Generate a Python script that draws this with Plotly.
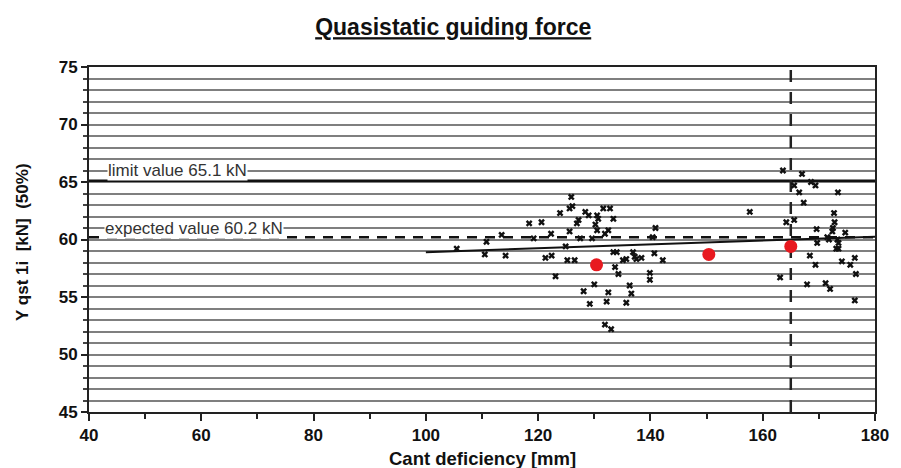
import plotly.graph_objects as go

# measured points (cant deficiency [mm], Y qst [kN])
cant = [105.5, 110.8, 110.5, 113.5, 114.2, 118.4, 120.6, 119.2, 122.3, 123.9,
        121.3, 122.4, 123.1, 125.9, 125.6, 126.1, 128.4, 129.0, 127.2, 126.9,
        125.6, 127.5, 130.5, 130.7, 130.2, 130.5, 131.6, 132.8, 133.4, 132.5,
        131.9, 129.6, 124.9, 125.2, 126.5, 133.4, 134.0, 135.1, 135.7, 136.9,
        137.2, 137.5, 138.4, 140.7, 142.2, 140.9, 140.4, 133.7, 134.3, 139.9,
        139.9, 130.0, 128.1, 136.3, 136.6, 132.5, 129.2, 132.2, 135.7, 131.9,
        133.0,
        163.6, 167.0, 168.6, 169.4, 165.6, 166.5, 173.4, 167.3, 157.7, 172.7,
        172.8, 165.6, 164.2, 169.6, 172.5, 172.4, 174.7, 171.5, 171.8, 169.7,
        173.3, 173.5, 173.1, 173.5, 168.4, 169.4, 174.1, 175.6, 176.4, 176.6,
        163.1, 167.9, 171.2, 172.0, 176.4]
force = [59.2, 59.8, 58.7, 60.4, 58.6, 61.4, 61.5, 60.1, 60.5, 62.3,
         58.4, 58.6, 56.8, 63.7, 62.7, 62.9, 62.4, 62.1, 61.7, 61.4,
         60.7, 60.1, 62.1, 61.8, 61.3, 60.8, 62.7, 62.7, 61.8, 60.8,
         60.5, 60.1, 59.4, 58.2, 58.2, 58.9, 58.9, 58.2, 58.3, 58.9,
         58.5, 58.3, 58.4, 58.8, 58.2, 61.0, 60.2, 57.6, 57.0, 57.1,
         56.5, 56.1, 55.5, 56.0, 55.3, 55.4, 54.4, 54.6, 54.5, 52.6,
         52.2,
         66.0, 65.7, 65.0, 64.7, 64.7, 64.1, 64.1, 63.2, 62.4, 62.3,
         61.5, 61.7, 61.5, 60.9, 61.0, 60.7, 60.6, 60.2, 60.0, 59.7,
         60.0, 59.7, 59.2, 59.2, 58.6, 57.8, 58.1, 57.8, 58.4, 57.0,
         56.7, 56.1, 56.2, 55.7, 54.7]

# class means
mean_cant = [130.4, 150.4, 165.0]
mean_force = [57.8, 58.7, 59.4]

# regression line end points
trend_x = [100, 180]
trend_y = [58.9, 60.25]

limit_value = 65.1
expected_value = 60.2
cant_limit = 165

FONT = "Liberation Sans, Arial, sans-serif"

fig = go.Figure()

fig.add_trace(go.Scatter(x=[40, 180], y=[limit_value, limit_value], mode="lines",
                         line=dict(color="#111", width=2.5), hoverinfo="skip", showlegend=False))
fig.add_trace(go.Scatter(x=[40, 180], y=[expected_value, expected_value], mode="lines",
                         line=dict(color="#111", width=2.5, dash="10px,8px"), hoverinfo="skip", showlegend=False))
fig.add_trace(go.Scatter(x=[cant_limit, cant_limit], y=[45, 75], mode="lines",
                         line=dict(color="#222", width=2.5, dash="12px,10px"), hoverinfo="skip", showlegend=False))
fig.add_trace(go.Scatter(x=trend_x, y=trend_y, mode="lines",
                         line=dict(color="#111", width=2), showlegend=False))
fig.add_trace(go.Scatter(x=cant, y=force, mode="markers",
                         marker=dict(symbol="x", size=6, color="#111"), showlegend=False))
fig.add_trace(go.Scatter(x=mean_cant, y=mean_force, mode="markers",
                         marker=dict(symbol="circle", size=13, color="#e8191f"), showlegend=False))

fig.add_annotation(x=43.2, y=66, xanchor="left", yanchor="middle", showarrow=False,
                   text="limit value 65.1 kN", bgcolor="white", borderpad=0,
                   font=dict(family=FONT, size=17, color="#333"))
fig.add_annotation(x=42.6, y=61, xanchor="left", yanchor="middle", showarrow=False,
                   text="expected value 60.2 kN", bgcolor="white", borderpad=0,
                   font=dict(family=FONT, size=17, color="#333"))

# axis titles as annotations for precise placement
fig.add_annotation(xref="paper", yref="paper", x=0.5, y=-0.134, xanchor="center", yanchor="middle",
                   showarrow=False, text="<b>Cant deficiency [mm]</b>",
                   font=dict(family=FONT, size=18.5, color="#111"))
fig.add_annotation(xref="paper", yref="paper", x=-0.084, y=0.493, xanchor="center", yanchor="middle",
                   showarrow=False, textangle=-90,
                   text="<b>Y qst 1i&nbsp;&nbsp;[kN]&nbsp;&nbsp;(50%)</b>",
                   font=dict(family=FONT, size=17, color="#111"))

fig.update_layout(
    width=901, height=468,
    margin=dict(l=89, r=16, t=67, b=56),
    paper_bgcolor="white", plot_bgcolor="white",
    title=dict(text="<b><u>Quasistatic guiding force</u></b>", x=0.503, xanchor="center",
               y=0.942, yanchor="middle",
               font=dict(family=FONT, size=23, color="#111")),
    xaxis=dict(range=[40, 180], dtick=20, tick0=40, showgrid=False,
               ticks="outside", ticklen=7, tickwidth=1.5, tickcolor="#222",
               minor=dict(dtick=10, ticks="outside", ticklen=5, tickcolor="#222", showgrid=False),
               showline=True, linecolor="#222", linewidth=2, mirror=True, zeroline=False,
               tickfont=dict(family=FONT, size=17, color="#111", weight="bold")),
    yaxis=dict(range=[45, 75], dtick=5, tick0=45, showgrid=True, gridcolor="#7f7f7f", gridwidth=1.8,
               ticks="outside", ticklen=6, tickwidth=1.5, tickcolor="#222",
               minor=dict(dtick=1, ticks="outside", ticklen=4, tickcolor="#444",
                          showgrid=True, gridcolor="#7f7f7f", gridwidth=1.8),
               showline=True, linecolor="#222", linewidth=2, mirror=True, zeroline=False,
               tickfont=dict(family=FONT, size=17, color="#111", weight="bold")),
)

fig.write_html("out.html")
